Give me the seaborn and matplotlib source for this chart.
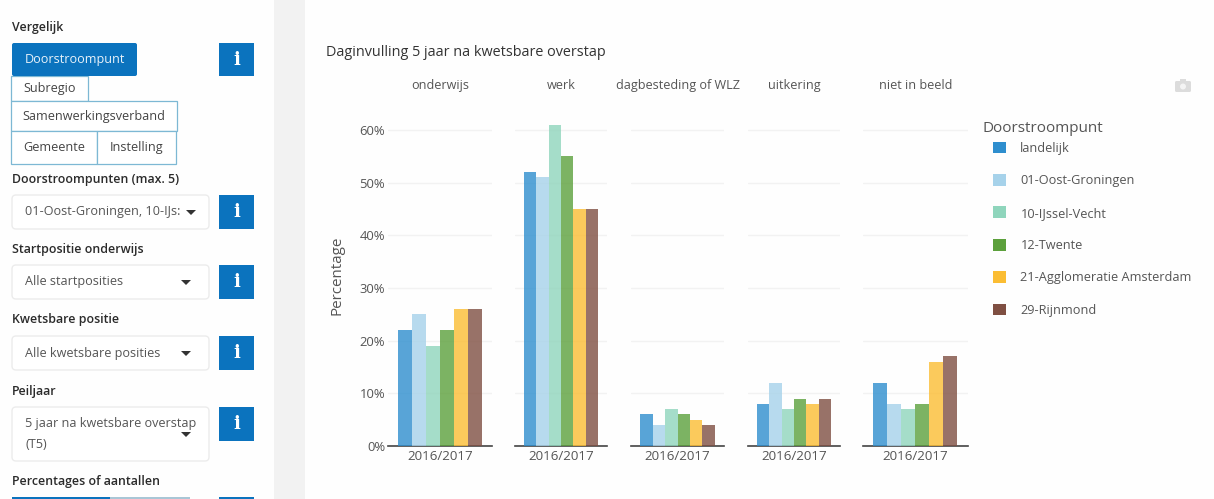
import pandas as pd
import matplotlib
matplotlib.use('Agg')
import matplotlib.pyplot as plt
from matplotlib.patches import Rectangle, FancyBboxPatch, Circle
import seaborn as sns

# ====================== Data ======================
panels = ['onderwijs', 'werk', 'dagbesteding of WLZ', 'uitkering', 'niet in beeld']
regions = ['landelijk', '01-Oost-Groningen', '10-IJssel-Vecht', '12-Twente',
           '21-Agglomeratie Amsterdam', '29-Rijnmond']
year = '2016/2017'

onderwijs = [22, 25, 19, 22, 26, 26]
werk = [52, 51, 61, 55, 45, 45]
dagbesteding = [6, 4, 7, 6, 5, 4]
uitkering = [8, 12, 7, 9, 8, 9]
niet_in_beeld = [12, 8, 7, 8, 16, 17]
panel_values = [onderwijs, werk, dagbesteding, uitkering, niet_in_beeld]

y_ticks = [0, 10, 20, 30, 40, 50, 60]
colors = ['#2e8ece', '#a6d2ea', '#8fd5bc', '#5ca03c', '#fbbd33', '#7f4f42']

W, H = 1214, 499
BLUE = '#0b73be'
EDGE = '#7db8d4'
TEXT = '#555555'

sns.set_theme(style='white')
plt.rcParams['font.family'] = ['Open Sans', 'DejaVu Sans']

fig = plt.figure(figsize=(W / 100, H / 100), dpi=100, facecolor='#fefefe')

# overlay in pixel coordinates for the dashboard controls
bg = fig.add_axes([0, 0, 1, 1], zorder=0)
bg.set_xlim(0, W)
bg.set_ylim(H, 0)
bg.axis('off')


def label(x, y, txt, size=8.9, color='#2b2b2b', weight='normal', **kw):
    bg.text(x, y, txt, fontsize=size, color=color, fontweight=weight, va='center', **kw)


def info_button(y0, y1=None):
    y1 = y0 + 34 if y1 is None else y1
    bg.add_patch(Rectangle((219, y0), 35, y1 - y0, fc=BLUE, ec='none'))
    bg.text(236.5, (y0 + y1) / 2, 'i', color='white', fontsize=13, fontweight='bold',
            ha='center', va='center', family='DejaVu Serif')


def dropdown(y0, y1, lines, arrow_x=190, arrow_y=None):
    bg.add_patch(FancyBboxPatch((12, y0), 197, y1 - y0, boxstyle='round,pad=0,rounding_size=4',
                                fc='white', ec='#ececec', lw=1))
    for i, line in enumerate(lines):
        label(25, y0 + 17 + i * 20, line, size=9.1, color=TEXT)
    arrow_y = (y0 + y1) / 2 if arrow_y is None else arrow_y
    bg.fill([arrow_x - 5, arrow_x + 5, arrow_x], [arrow_y - 2, arrow_y - 2, arrow_y + 3],
            color='#333333', lw=0)


def toggle(x0, x1, y0, y1, txt):
    bg.add_patch(Rectangle((x0, y0), x1 - x0, y1 - y0, fc='white', ec=EDGE, lw=0.9))
    label((x0 + x1) / 2, (y0 + y1) / 2, txt, size=9.1, color='#444444', ha='center')


# grey strip between sidebar and chart
bg.add_patch(Rectangle((274, 0), 31, H, fc='#f2f2f2', ec='none'))

label(12, 27, 'Vergelijk', weight='semibold')
toggle(11, 88, 76, 101, 'Subregio')
toggle(11, 177, 101, 131, 'Samenwerkingsverband')
toggle(11, 97, 131, 164, 'Gemeente')
toggle(97, 176, 131, 164, 'Instelling')
bg.add_patch(FancyBboxPatch((12, 43), 125, 33, boxstyle='round,pad=0,rounding_size=2',
                            fc=BLUE, ec='none'))
label(74.5, 59.5, 'Doorstroompunt', size=9.1, color='#e8f2fa', ha='center')
info_button(43, 76)

label(12, 179, 'Doorstroompunten (max. 5)', weight='semibold')
dropdown(195, 229, ['01-Oost-Groningen, 10-IJs:'], arrow_x=191)
info_button(195)

label(12, 249, 'Startpositie onderwijs', weight='semibold')
dropdown(265, 299, ['Alle startposities'], arrow_x=186)
info_button(265)

label(12, 320, 'Kwetsbare positie', weight='semibold')
dropdown(336, 370, ['Alle kwetsbare posities'], arrow_x=186)
info_button(336)

label(12, 391, 'Peiljaar', weight='semibold')
dropdown(407, 461, ['5 jaar na kwetsbare overstap', '(T5)'], arrow_x=186, arrow_y=434)
info_button(407, 441)

label(12, 482, 'Percentages of aantallen', weight='semibold')
bg.add_patch(Rectangle((110, 497), 80, 4, fc='#a9c6d6', ec='none'))
bg.add_patch(Rectangle((12, 497), 98, 4, fc=BLUE, ec='none'))
bg.add_patch(Rectangle((219, 497), 35, 4, fc=BLUE, ec='none'))

# chart title, axis title and camera icon
label(326, 52, 'Daginvulling 5 jaar na kwetsbare overstap', size=10.4, color='#333333')
label(337, 275.5, 'Percentage', size=10.9, color=TEXT, rotation=90, ha='center')
bg.add_patch(FancyBboxPatch((1175, 81), 16, 11, boxstyle='round,pad=0,rounding_size=1.5',
                            fc='#dcdcdc', ec='none'))
bg.add_patch(Rectangle((1180, 79), 6, 3, fc='#dcdcdc', ec='none'))
bg.add_patch(Circle((1183, 86.5), 3, fc='#f4f4f4', ec='none'))

# ====================== Small multiples ======================
spans = [(388, 492), (515, 607), (631, 724), (748, 840), (863, 968)]
y_base, y_top = 446, 114
y_max = (y_base - y_top) / 5.267

for i, (name, values, (x0, x1)) in enumerate(zip(panels, panel_values, spans)):
    ax = fig.add_axes([x0 / W, 1 - y_base / H, (x1 - x0) / W, (y_base - y_top) / H],
                      zorder=1, facecolor='none')
    df = pd.DataFrame({'jaar': [year] * len(regions), 'Doorstroompunt': regions, 'pct': values})
    sns.barplot(data=df, x='jaar', y='pct', hue='Doorstroompunt', hue_order=regions,
                palette=colors, width=0.8, gap=0, alpha=0.8, saturation=1, errorbar=None,
                legend=(i == len(panels) - 1), ax=ax, zorder=3, linewidth=0)
    ax.set_xlim(-0.5, 0.5)
    ax.set_ylim(0, y_max)
    ax.set_yticks(y_ticks)
    ax.set_yticklabels([f'{t}%' for t in y_ticks] if i == 0 else [])
    ax.set_xlabel('')
    ax.set_ylabel('')
    ax.grid(axis='y', color='#f2f2f2', lw=1, zorder=0)
    ax.grid(axis='x', visible=False)
    ax.set_axisbelow(True)
    sns.despine(ax=ax, left=True)
    ax.spines['bottom'].set_color('#444444')
    ax.spines['bottom'].set_linewidth(1.2)
    ax.tick_params(axis='x', length=0, labelsize=9.6, labelcolor=TEXT, pad=3)
    ax.tick_params(axis='y', length=0, labelsize=9.4, labelcolor=TEXT, pad=2)
    bg.text((x0 + x1) / 2, 85, name, fontsize=9.1, color=TEXT, ha='center', va='center')

    if i == len(panels) - 1:
        sns.move_legend(ax, 'upper left', bbox_to_anchor=(993 / W, 1 - 121 / H),
                        bbox_transform=fig.transFigure, title='Doorstroompunt', frameon=False,
                        fontsize=9.2, title_fontsize=11, labelspacing=1.5, handlelength=1.04,
                        handleheight=1.04, handletextpad=1.1, borderpad=0, borderaxespad=0,
                        alignment='left')
        leg = ax.get_legend()
        for handle, c in zip(leg.legend_handles, colors):
            handle.set_facecolor(c)
            handle.set_alpha(1)
        for t in leg.get_texts():
            t.set_color(TEXT)
        leg.get_title().set_color(TEXT)
        # indent the entries under the title
        leg._legend_box.sep = 4
        leg.get_title().set_position((-11, 0))

fig.savefig('out.png', dpi=100, facecolor=fig.get_facecolor())
plt.close(fig)
